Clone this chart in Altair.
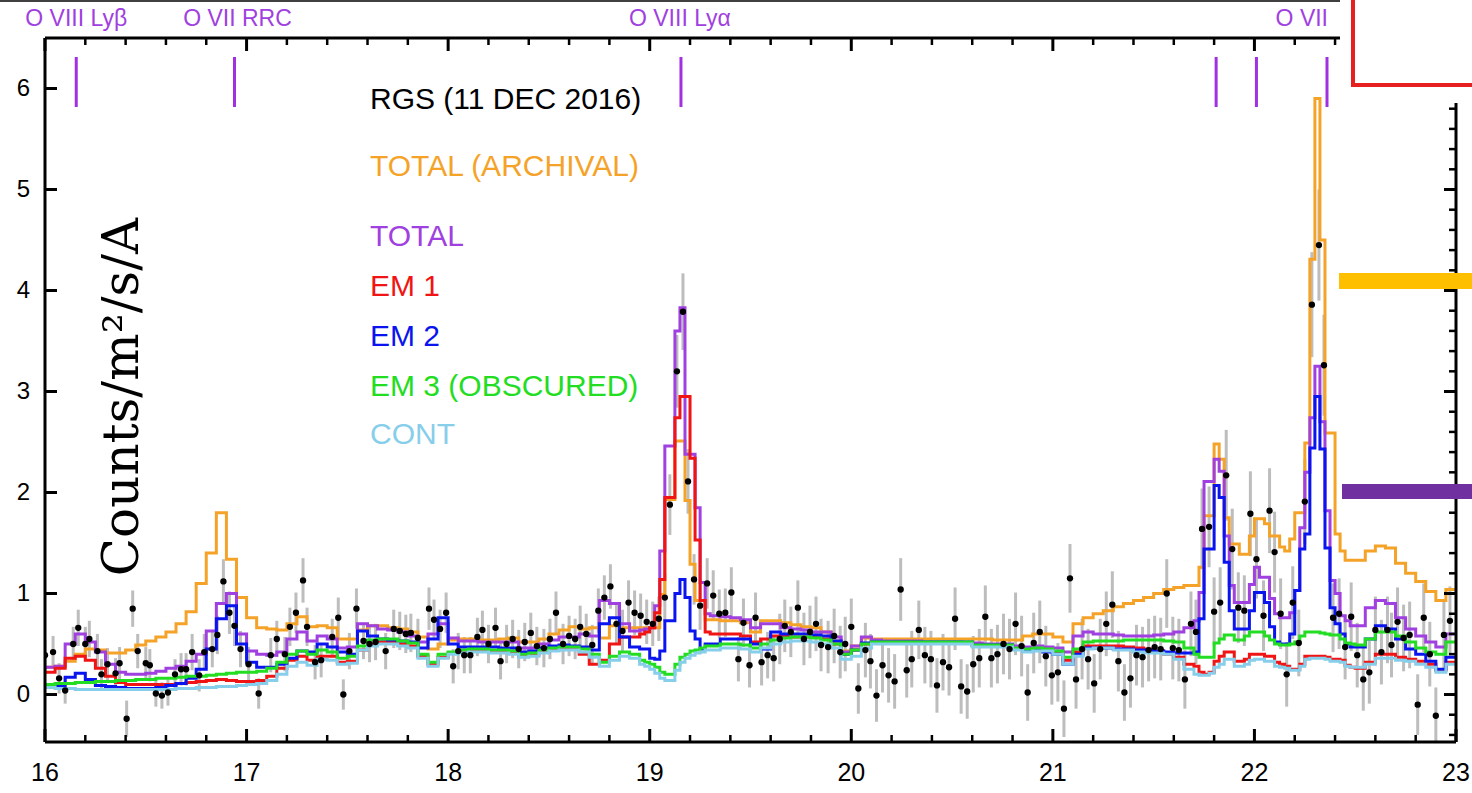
import altair as alt
import numpy as np
import pandas as pd

# ---------------- wavelength bins (Angstrom) ----------------
seg_a = np.round(np.arange(16.00, 18.949, 0.05), 3)   # 59 bins
seg_b = np.round(np.arange(18.95, 19.299, 0.025), 3)  # 14 bins
seg_c = np.round(np.arange(19.30, 21.699, 0.05), 3)   # 48 bins
seg_d = np.round(np.arange(21.70, 22.499, 0.025), 3)  # 32 bins
seg_e = np.round(np.arange(22.50, 22.999, 0.05), 3)   # 10 bins
bin_start = [float(v) for v in np.concatenate([seg_a, seg_b, seg_c, seg_d, seg_e])]
wave_end = 23.0

# ---------------- model curves (counts/m2/s/A) ----------------
total_archival = (
    [0.27, 0.28, 0.33, 0.40, 0.45, 0.44, 0.41, 0.41, 0.44, 0.49,
     0.53, 0.57, 0.62, 0.70, 0.82, 1.10, 1.40, 1.80, 1.34, 0.96,
     0.76, 0.66, 0.65, 0.64, 0.70, 0.77, 0.67, 0.68, 0.66, 0.55,
     0.55, 0.64, 0.68, 0.68, 0.66, 0.65, 0.62, 0.57, 0.45, 0.50,
     0.54, 0.55, 0.55, 0.54, 0.54, 0.55, 0.56, 0.52, 0.52, 0.55,
     0.60, 0.64, 0.67, 0.65, 0.66, 0.56, 0.68, 0.66, 0.66]
    + [0.66, 0.66, 0.66, 0.66, 0.99, 1.93, 1.93, 2.51, 2.51, 1.92, 1.29, 0.93, 0.93, 0.74]
    + [0.74, 0.73, 0.73, 0.71, 0.62, 0.73, 0.73, 0.71, 0.69, 0.67,
       0.66, 0.62, 0.53, 0.43, 0.48, 0.56, 0.55, 0.55, 0.55, 0.55,
       0.55, 0.55, 0.55, 0.55, 0.55, 0.55, 0.55, 0.55, 0.54, 0.54,
       0.54, 0.58, 0.60, 0.60, 0.57, 0.52, 0.70, 0.76, 0.80, 0.83,
       0.87, 0.90, 0.93, 0.96, 1.00, 1.04, 1.06, 1.08]
    + [1.08, 1.26, 1.77, 1.77, 2.48, 2.33, 1.75, 1.49, 1.49, 1.39,
       1.39, 1.57, 1.74, 1.74, 1.69, 1.57, 1.57, 1.46, 1.42, 1.54,
       1.80, 1.80, 2.49, 4.31, 5.90, 4.50, 2.59, 2.59, 1.59, 1.42,
       1.33, 1.33]
    + [1.33, 1.42, 1.47, 1.45, 1.30, 1.20, 1.12, 1.02, 0.93, 1.04]
)

total = (
    [0.27, 0.28, 0.50, 0.60, 0.52, 0.42, 0.30, 0.22, 0.20, 0.20,
     0.21, 0.23, 0.26, 0.28, 0.33, 0.40, 0.63, 0.90, 1.00, 0.60,
     0.43, 0.40, 0.39, 0.42, 0.55, 0.62, 0.53, 0.58, 0.55, 0.46,
     0.47, 0.70, 0.68, 0.65, 0.64, 0.62, 0.58, 0.52, 0.60, 0.70,
     0.56, 0.53, 0.53, 0.52, 0.52, 0.52, 0.52, 0.46, 0.46, 0.50,
     0.54, 0.57, 0.57, 0.60, 0.58, 0.93, 0.90, 0.70, 0.63]
    + [0.64, 0.65, 0.66, 0.88, 1.42, 2.46, 2.46, 3.60, 3.83, 2.38, 2.38, 1.85, 1.11, 0.80]
    + [0.78, 0.77, 0.76, 0.74, 0.66, 0.70, 0.70, 0.66, 0.65, 0.64,
       0.62, 0.62, 0.57, 0.42, 0.48, 0.57, 0.54, 0.53, 0.53, 0.53,
       0.53, 0.52, 0.52, 0.52, 0.52, 0.51, 0.51, 0.50, 0.50, 0.50,
       0.48, 0.47, 0.48, 0.47, 0.46, 0.42, 0.58, 0.62, 0.60, 0.60,
       0.59, 0.58, 0.58, 0.58, 0.59, 0.60, 0.62, 0.66]
    + [0.73, 1.01, 2.11, 2.11, 2.33, 2.21, 1.57, 1.08, 0.91, 0.91,
       0.91, 1.09, 1.26, 1.16, 1.16, 0.95, 0.80, 0.76, 0.76, 0.81,
       1.03, 1.65, 2.20, 2.74, 3.25, 2.70, 1.82, 1.13, 1.00, 0.78,
       0.73, 0.68]
    + [0.68, 0.86, 0.93, 0.90, 0.76, 0.65, 0.58, 0.52, 0.47, 0.60]
)

em1 = (
    [0.22, 0.26, 0.36, 0.38, 0.34, 0.26, 0.18, 0.12, 0.10, 0.10,
     0.10, 0.10, 0.10, 0.11, 0.12, 0.13, 0.14, 0.15, 0.14, 0.13,
     0.13, 0.14, 0.18, 0.26, 0.34, 0.38, 0.34, 0.38, 0.38, 0.32,
     0.33, 0.44, 0.50, 0.52, 0.52, 0.50, 0.48, 0.38, 0.30, 0.37,
     0.41, 0.42, 0.43, 0.43, 0.42, 0.42, 0.41, 0.38, 0.39, 0.42,
     0.44, 0.45, 0.45, 0.40, 0.30, 0.34, 0.50, 0.57, 0.57]
    + [0.60, 0.62, 0.66, 0.81, 1.14, 1.95, 1.95, 2.74, 2.95, 2.95, 2.34, 1.53, 0.93, 0.62]
    + [0.60, 0.60, 0.60, 0.58, 0.52, 0.55, 0.58, 0.58, 0.57, 0.57,
       0.57, 0.55, 0.50, 0.40, 0.44, 0.50, 0.51, 0.51, 0.51, 0.51,
       0.51, 0.51, 0.51, 0.51, 0.51, 0.51, 0.48, 0.48, 0.48, 0.48,
       0.45, 0.44, 0.45, 0.44, 0.42, 0.34, 0.42, 0.48, 0.48, 0.48,
       0.48, 0.47, 0.46, 0.45, 0.43, 0.40, 0.37, 0.30]
    + [0.28, 0.22, 0.20, 0.22, 0.33, 0.38, 0.42, 0.42, 0.33, 0.33,
       0.35, 0.40, 0.40, 0.40, 0.38, 0.38, 0.32, 0.30, 0.28, 0.25,
       0.25, 0.30, 0.38, 0.38, 0.38, 0.38, 0.37, 0.35, 0.35, 0.34,
       0.29, 0.27]
    + [0.26, 0.32, 0.40, 0.40, 0.37, 0.35, 0.33, 0.30, 0.24, 0.32]
)

em2 = (
    [0.07, 0.08, 0.17, 0.21, 0.15, 0.09, 0.08, 0.07, 0.06, 0.06,
     0.06, 0.07, 0.09, 0.11, 0.16, 0.25, 0.45, 0.75, 0.88, 0.50,
     0.32, 0.27, 0.27, 0.30, 0.36, 0.43, 0.42, 0.50, 0.47, 0.42,
     0.40, 0.63, 0.58, 0.55, 0.54, 0.53, 0.52, 0.46, 0.55, 0.76,
     0.50, 0.47, 0.47, 0.47, 0.47, 0.46, 0.46, 0.42, 0.43, 0.46,
     0.48, 0.49, 0.48, 0.47, 0.44, 0.70, 0.76, 0.57, 0.47]
    + [0.45, 0.45, 0.36, 0.35, 0.43, 0.73, 0.73, 1.00, 1.14, 0.96, 0.63, 0.55, 0.45, 0.50]
    + [0.50, 0.55, 0.55, 0.55, 0.50, 0.45, 0.62, 0.60, 0.60, 0.60,
       0.59, 0.58, 0.53, 0.40, 0.44, 0.51, 0.52, 0.52, 0.52, 0.52,
       0.52, 0.52, 0.52, 0.52, 0.52, 0.52, 0.49, 0.49, 0.49, 0.49,
       0.45, 0.43, 0.44, 0.42, 0.40, 0.30, 0.40, 0.46, 0.46, 0.46,
       0.45, 0.45, 0.44, 0.44, 0.43, 0.42, 0.41, 0.41]
    + [0.42, 0.75, 1.44, 1.44, 2.07, 1.95, 1.31, 0.83, 0.65, 0.65,
       0.65, 0.83, 1.01, 1.01, 0.91, 0.67, 0.52, 0.50, 0.50, 0.60,
       1.03, 1.44, 1.59, 2.44, 2.95, 2.43, 1.45, 0.86, 0.70, 0.60,
       0.50, 0.47]
    + [0.47, 0.55, 0.68, 0.65, 0.55, 0.45, 0.40, 0.33, 0.25, 0.37]
)

em3 = (
    [0.10, 0.11, 0.11, 0.12, 0.12, 0.13, 0.13, 0.14, 0.14, 0.15,
     0.15, 0.16, 0.16, 0.17, 0.18, 0.18, 0.19, 0.20, 0.21, 0.22,
     0.22, 0.23, 0.26, 0.32, 0.40, 0.43, 0.40, 0.44, 0.42, 0.36,
     0.38, 0.48, 0.54, 0.55, 0.55, 0.53, 0.51, 0.40, 0.32, 0.40,
     0.42, 0.44, 0.45, 0.45, 0.44, 0.44, 0.43, 0.40, 0.41, 0.44,
     0.46, 0.47, 0.47, 0.45, 0.40, 0.32, 0.38, 0.42, 0.40]
    + [0.34, 0.32, 0.30, 0.27, 0.22, 0.20, 0.20, 0.30, 0.37, 0.40, 0.43, 0.44, 0.46, 0.48]
    + [0.48, 0.50, 0.50, 0.49, 0.46, 0.50, 0.54, 0.56, 0.57, 0.57,
       0.56, 0.54, 0.50, 0.40, 0.44, 0.50, 0.52, 0.52, 0.52, 0.52,
       0.52, 0.52, 0.52, 0.52, 0.52, 0.52, 0.49, 0.49, 0.49, 0.49,
       0.46, 0.45, 0.46, 0.45, 0.43, 0.37, 0.45, 0.52, 0.53, 0.53,
       0.53, 0.54, 0.54, 0.54, 0.54, 0.53, 0.52, 0.46]
    + [0.40, 0.37, 0.37, 0.37, 0.51, 0.55, 0.59, 0.59, 0.54, 0.54,
       0.58, 0.62, 0.62, 0.62, 0.58, 0.54, 0.50, 0.49, 0.49, 0.50,
       0.52, 0.58, 0.62, 0.62, 0.62, 0.61, 0.60, 0.59, 0.59, 0.55,
       0.51, 0.50]
    + [0.49, 0.55, 0.62, 0.62, 0.58, 0.52, 0.46, 0.42, 0.40, 0.52]
)

cont = (
    [0.07, 0.06, 0.06, 0.05, 0.05, 0.05, 0.05, 0.05, 0.05, 0.05,
     0.05, 0.05, 0.05, 0.06, 0.06, 0.07, 0.07, 0.08, 0.08, 0.09,
     0.10, 0.11, 0.14, 0.20, 0.28, 0.32, 0.29, 0.35, 0.34, 0.30,
     0.31, 0.44, 0.48, 0.50, 0.50, 0.48, 0.46, 0.36, 0.28, 0.36,
     0.40, 0.41, 0.42, 0.42, 0.41, 0.41, 0.40, 0.37, 0.38, 0.41,
     0.43, 0.44, 0.44, 0.42, 0.37, 0.28, 0.34, 0.38, 0.36]
    + [0.30, 0.28, 0.25, 0.21, 0.16, 0.14, 0.14, 0.24, 0.32, 0.36, 0.39, 0.41, 0.42, 0.44]
    + [0.44, 0.46, 0.46, 0.45, 0.42, 0.46, 0.50, 0.52, 0.53, 0.53,
       0.52, 0.50, 0.46, 0.35, 0.38, 0.46, 0.50, 0.50, 0.50, 0.50,
       0.50, 0.50, 0.50, 0.50, 0.50, 0.50, 0.47, 0.47, 0.47, 0.47,
       0.44, 0.42, 0.43, 0.43, 0.40, 0.30, 0.38, 0.45, 0.46, 0.46,
       0.44, 0.44, 0.42, 0.41, 0.41, 0.40, 0.35, 0.25]
    + [0.20, 0.19, 0.19, 0.21, 0.27, 0.30, 0.35, 0.35, 0.28, 0.28,
       0.30, 0.34, 0.35, 0.35, 0.33, 0.33, 0.28, 0.27, 0.26, 0.24,
       0.24, 0.28, 0.35, 0.36, 0.36, 0.36, 0.35, 0.33, 0.33, 0.32,
       0.28, 0.27]
    + [0.27, 0.30, 0.36, 0.36, 0.34, 0.33, 0.30, 0.27, 0.22, 0.30]
)

# ---------------- RGS data points ----------------
data_wave = [
    16.00, 16.04, 16.07, 16.10, 16.14, 16.165, 16.20, 16.22, 16.26, 16.28,
    16.31, 16.35, 16.37, 16.405, 16.435, 16.46, 16.50, 16.52, 16.55, 16.58,
    16.61, 16.645, 16.675, 16.70, 16.73, 16.765, 16.79, 16.83, 16.855, 16.885,
    16.915, 16.94, 16.97, 17.01, 17.06, 17.12, 17.15, 17.19, 17.215, 17.245,
    17.28, 17.30, 17.34, 17.37, 17.425, 17.455, 17.48, 17.51, 17.545, 17.58,
    17.61, 17.64, 17.69, 17.73, 17.76, 17.79, 17.815, 17.85, 17.905, 17.93,
    17.96, 17.99, 18.025, 18.05, 18.08, 18.11, 18.145, 18.17, 18.20, 18.235,
    18.26, 18.29, 18.32, 18.35, 18.38, 18.41, 18.44, 18.475, 18.505, 18.535,
    18.57, 18.60, 18.63, 18.655, 18.685, 18.715, 18.745, 18.775, 18.805, 18.835,
    18.865, 18.895, 18.925, 18.955, 18.985, 19.015, 19.045, 19.075, 19.10, 19.135,
    19.165, 19.19, 19.22, 19.25, 19.285, 19.315, 19.345, 19.375, 19.405, 19.44,
    19.465, 19.495, 19.525, 19.555, 19.585, 19.615, 19.645, 19.67, 19.70, 19.735,
    19.765, 19.795, 19.825, 19.85, 19.885, 19.915, 19.945, 19.97, 20.00, 20.035,
    20.07, 20.095, 20.125, 20.155, 20.185, 20.215, 20.245, 20.275, 20.30, 20.335,
    20.365, 20.395, 20.425, 20.455, 20.485, 20.515, 20.545, 20.575, 20.605, 20.635,
    20.665, 20.695, 20.725, 20.755, 20.785, 20.815, 20.845, 20.875, 20.905, 20.935,
    20.965, 20.995, 21.025, 21.055, 21.085, 21.115, 21.145, 21.175, 21.205, 21.235,
    21.265, 21.295, 21.325, 21.355, 21.385, 21.415, 21.445, 21.475, 21.505, 21.535,
    21.565, 21.595, 21.625, 21.655, 21.685, 21.71, 21.74, 21.775, 21.80, 21.83,
    21.86, 21.89, 21.92, 21.95, 21.98, 22.01, 22.045, 22.075, 22.10, 22.13,
    22.16, 22.19, 22.22, 22.25, 22.285, 22.32, 22.345, 22.39, 22.42, 22.45,
    22.48, 22.51, 22.54, 22.57, 22.60, 22.63, 22.66, 22.68, 22.71, 22.74,
    22.77, 22.81, 22.84, 22.87, 22.90, 22.94, 22.97,
]
data_flux = [
    0.39, 0.42, 0.16, 0.04, 0.50, 0.66, 0.50, 0.55, 0.43, 0.20,
    0.30, 0.21, 0.31, -0.24, 0.85, 0.43, 0.31, 0.29, 0.01, -0.01,
    0.02, 0.20, 0.25, 0.25, 0.42, 0.19, 0.42, 0.45, 0.59, 1.12,
    0.81, 0.68, 0.45, 0.30, 0.01, 0.39, 0.55, 0.40, 0.67, 0.81,
    1.13, 0.67, 0.32, 0.34, 0.57, 0.76, 0.00, 0.43, 0.85, 0.53,
    0.50, 0.52, 0.43, 0.65, 0.63, 0.60, 0.61, 0.56, 0.85, 0.74,
    0.65, 0.81, 0.28, 0.43, 0.39, 0.39, 0.57, 0.64, 0.50, 0.66,
    0.33, 0.50, 0.55, 0.45, 0.52, 0.61, 0.48, 0.46, 0.55, 0.81,
    0.50, 0.58, 0.55, 0.67, 0.60, 0.49, 0.83, 0.96, 1.07, 0.70,
    0.63, 0.91, 0.81, 0.78, 0.72, 0.70, 0.75, 0.96, 1.88, 3.20,
    3.79, 2.11, 1.14, 0.88, 1.10, 0.98, 0.80, 0.81, 1.01, 0.35,
    0.71, 0.29, 0.76, 0.32, 0.39, 0.36, 0.55, 0.68, 0.62, 0.86,
    0.55, 0.62, 0.70, 0.49, 0.47, 0.58, 0.42, 0.50, 0.67, 0.06,
    0.44, 0.33, -0.01, 0.29, 0.19, 0.13, 1.04, 0.24, 0.35, 0.64,
    0.39, 0.35, 0.09, 0.32, 0.27, 0.75, 0.08, 0.03, 0.30, 0.36,
    0.77, 0.36, 0.40, 0.50, 0.45, 0.70, 0.48, 0.02, 0.51, 0.62,
    0.38, 0.19, 0.22, -0.14, 1.15, 0.15, 0.45, 0.35, 0.11, 0.45,
    0.70, 0.89, 0.33, 0.02, 0.16, 0.39, 0.37, 0.44, 0.47, 0.45,
    1.00, 0.46, 0.44, 0.15, 0.70, 0.62, 1.64, 1.66, 0.82, 0.91,
    2.17, 1.44, 0.86, 0.83, 1.79, 1.34, 0.78, 1.82, 1.41, 0.80,
    0.20, 0.91, 0.51, 1.91, 3.86, 4.45, 3.26, 0.76, 0.80, 0.47,
    0.77, 0.39, 0.15, 0.22, 0.64, 0.42, 0.64, 0.49, 0.72, 0.56,
    0.59, -0.10, 0.76, 0.40, -0.21, 0.59, 0.73,
]
data_err = [
    0.15, 0.16, 0.15, 0.13, 0.17, 0.18, 0.17, 0.18, 0.17, 0.15,
    0.16, 0.15, 0.16, 0.18, 0.18, 0.17, 0.16, 0.16, 0.13, 0.13,
    0.13, 0.15, 0.16, 0.16, 0.18, 0.16, 0.18, 0.18, 0.19, 0.22,
    0.21, 0.20, 0.18, 0.17, 0.15, 0.17, 0.18, 0.17, 0.19, 0.20,
    0.22, 0.19, 0.17, 0.17, 0.18, 0.20, 0.15, 0.18, 0.20, 0.18,
    0.18, 0.18, 0.18, 0.19, 0.19, 0.19, 0.19, 0.19, 0.21, 0.20,
    0.19, 0.20, 0.17, 0.18, 0.18, 0.18, 0.19, 0.19, 0.19, 0.20,
    0.18, 0.19, 0.19, 0.19, 0.19, 0.20, 0.19, 0.19, 0.20, 0.21,
    0.20, 0.20, 0.20, 0.21, 0.20, 0.20, 0.22, 0.22, 0.22, 0.21,
    0.21, 0.22, 0.22, 0.22, 0.22, 0.22, 0.22, 0.24, 0.30, 0.36,
    0.38, 0.32, 0.25, 0.24, 0.25, 0.25, 0.24, 0.24, 0.25, 0.22,
    0.24, 0.22, 0.25, 0.23, 0.23, 0.23, 0.25, 0.26, 0.25, 0.27,
    0.26, 0.26, 0.27, 0.26, 0.26, 0.27, 0.26, 0.27, 0.28, 0.25,
    0.27, 0.27, 0.26, 0.27, 0.27, 0.27, 0.31, 0.27, 0.28, 0.29,
    0.28, 0.28, 0.27, 0.28, 0.28, 0.31, 0.27, 0.27, 0.28, 0.29,
    0.31, 0.29, 0.29, 0.30, 0.30, 0.31, 0.30, 0.28, 0.30, 0.31,
    0.30, 0.29, 0.29, 0.28, 0.34, 0.29, 0.30, 0.30, 0.29, 0.30,
    0.32, 0.33, 0.30, 0.28, 0.29, 0.30, 0.30, 0.31, 0.31, 0.31,
    0.34, 0.31, 0.31, 0.29, 0.32, 0.32, 0.40, 0.40, 0.34, 0.35,
    0.45, 0.40, 0.35, 0.35, 0.42, 0.39, 0.35, 0.42, 0.40, 0.35,
    0.32, 0.36, 0.33, 0.42, 0.52, 0.55, 0.50, 0.34, 0.35, 0.32,
    0.34, 0.32, 0.31, 0.31, 0.33, 0.32, 0.33, 0.32, 0.34, 0.33,
    0.33, 0.30, 0.34, 0.32, 0.28, 0.33, 0.34,
]

# ---------------- annotations ----------------
line_wave = [16.155, 16.94, 19.155, 21.81, 22.01, 22.36]
line_labels = ["O VIII Lyβ", "O VII RRC", "O VIII Lyα", "O VII"]
line_label_wave = [16.155, 16.955, 19.15, 22.365]
line_label_align = ["center", "center", "center", "right"]

legend_text = ["RGS (11 DEC 2016)", "TOTAL (ARCHIVAL)", "TOTAL", "EM 1", "EM 2",
               "EM 3 (OBSCURED)", "CONT"]
legend_colors = ["#000000", "#f5a328", "#a040e0", "#f01414", "#0a14ee", "#22dd22", "#87ceeb"]
legend_ypix = [62, 129, 199, 249, 299, 349, 397]

x_major = [16, 17, 18, 19, 20, 21, 22, 23]
x_tick_labels = ["16", "17", "18", "19", "20", "21", "22", "23"]
x_minor = [round(16 + 0.2 * i, 1) for i in range(36) if i % 5 != 0]
y_major = [0, 1, 2, 3, 4, 5, 6]
y_tick_labels = ["0", "1", "2", "3", "4", "5", "6"]
y_minor = [round(-0.4 + 0.2 * i, 1) for i in range(34) if round(-0.4 + 0.2 * i, 1) not in y_major]

for s in (total_archival, total, em1, em2, em3, cont):
    assert len(s) == len(bin_start), len(s)
assert len(data_wave) == len(data_flux) == len(data_err)

W, H = 1411, 704
xs = alt.Scale(domain=[16, 23], nice=False, zero=False)
ys = alt.Scale(domain=[-0.47, 6.5], nice=False, zero=False)
FONT = "Liberation Sans"
dummy = pd.DataFrame({"d": [0]})

# ---------------- layers ----------------
pts = pd.DataFrame({"wave": data_wave, "flux": data_flux, "err": data_err})
pts["lo"] = pts["flux"] - pts["err"]
pts["hi"] = pts["flux"] + pts["err"]

errbars = alt.Chart(pts).mark_rule(color="#bdbdbd", strokeWidth=3, clip=True).encode(
    x=alt.X("wave:Q", scale=xs, axis=None),
    y=alt.Y("lo:Q", scale=ys, axis=None),
    y2="hi:Q",
)


def step_layer(vals, color):
    df = pd.DataFrame({"wave": bin_start + [wave_end], "flux": vals + [vals[-1]]})
    return alt.Chart(df).mark_line(interpolate="step-after", color=color, strokeWidth=3,
                                   clip=True).encode(
        x=alt.X("wave:Q", scale=xs, axis=None),
        y=alt.Y("flux:Q", scale=ys, axis=None),
    )


curves = [
    step_layer(total_archival, "#f5a328"),
    step_layer(total, "#a040e0"),
    step_layer(em1, "#f01414"),
    step_layer(em2, "#0a14ee"),
    step_layer(em3, "#22dd22"),
    step_layer(cont, "#87ceeb"),
]

dots = alt.Chart(pts).mark_circle(color="black", size=40, opacity=1, clip=True).encode(
    x=alt.X("wave:Q", scale=xs, axis=None),
    y=alt.Y("flux:Q", scale=ys, axis=None),
)

# tick labels as text through the scales
xlab = alt.Chart(pd.DataFrame({"t": x_major, "s": x_tick_labels})).mark_text(
    font=FONT, fontSize=25, color="black", align="center", baseline="middle").encode(
    x=alt.X("t:Q", scale=xs, axis=None), y=alt.value(H + 31), text="s:N")
ylab = alt.Chart(pd.DataFrame({"t": y_major, "s": y_tick_labels})).mark_text(
    font=FONT, fontSize=24, color="black", align="right", baseline="middle").encode(
    y=alt.Y("t:Q", scale=ys, axis=None), x=alt.value(-15), text="s:N")

# line markers and labels
markers = alt.Chart(pd.DataFrame({"wave": line_wave})).mark_rule(
    color="#a030e0", strokeWidth=3).encode(
    x=alt.X("wave:Q", scale=xs, axis=None), y=alt.value(19), y2=alt.value(69))

label_layers = []
for txt, wv, al in zip(line_labels, line_label_wave, line_label_align):
    label_layers.append(
        alt.Chart(pd.DataFrame({"wave": [wv], "t": [txt]})).mark_text(
            font=FONT, fontSize=23, color="#a040e0", align=al, baseline="middle").encode(
            x=alt.X("wave:Q", scale=xs, axis=None), y=alt.value(-19), text="t:N"))

legend_layers = []
for txt, col, yp in zip(legend_text, legend_colors, legend_ypix):
    legend_layers.append(
        alt.Chart(dummy).mark_text(font=FONT, fontSize=30, color=col, align="left",
                                   baseline="middle", text=txt).encode(
            x=alt.value(325), y=alt.value(yp)))

ylabel = alt.Chart(dummy).mark_text(font="DejaVu Serif", fontSize=50, color="black",
                                    angle=270, align="center", baseline="middle",
                                    text="Counts/m²/s/A").encode(
    x=alt.value(78), y=alt.value(359))


# ticks (inward)
def xticks(vals, y, y2, w):
    return alt.Chart(pd.DataFrame({"t": vals})).mark_rule(color="black", strokeWidth=w).encode(
        x=alt.X("t:Q", scale=xs, axis=None), y=alt.value(y), y2=alt.value(y2))


def yticks(vals, x, x2, w):
    return alt.Chart(pd.DataFrame({"t": vals})).mark_rule(color="black", strokeWidth=w).encode(
        y=alt.Y("t:Q", scale=ys, axis=None), x=alt.value(x), x2=alt.value(x2))


ticks = [
    xticks(x_major, H, H - 13, 3), xticks(x_minor, H, H - 7, 2.5),
    xticks(x_major, 0, 13, 3), xticks(x_minor, 0, 7, 2.5),
    yticks(y_major, 0, 12, 3),
    yticks(y_major, W, W - 12, 3), yticks(y_minor, W, W - 7, 2.5),
]


def px_rule(x, x2, y, y2, color="black", w=3):
    return alt.Chart(dummy).mark_rule(color=color, strokeWidth=w).encode(
        x=alt.value(x), x2=alt.value(x2), y=alt.value(y), y2=alt.value(y2))


frame = [
    px_rule(0, W, H, H), px_rule(0, 0, 0, H), px_rule(0, W, 0, 0), px_rule(W, W, 0, H),
    px_rule(-45, 1296, -37, -37, w=1.5),
]

cover = alt.Chart(dummy).mark_rect(color="white").encode(
    x=alt.value(1295), x2=alt.value(1430), y=alt.value(-40), y2=alt.value(65))
red_box = alt.Chart(dummy).mark_rect(fill=None, stroke="#e62020", strokeWidth=4).encode(
    x=alt.value(1308), x2=alt.value(1450), y=alt.value(-60), y2=alt.value(47))
bar_yellow = alt.Chart(dummy).mark_rect(color="#fdbf00").encode(
    x=alt.value(1294), x2=alt.value(1430), y=alt.value(235), y2=alt.value(251))
bar_purple = alt.Chart(dummy).mark_rect(color="#7030a0").encode(
    x=alt.value(1297), x2=alt.value(1430), y=alt.value(446), y2=alt.value(461))

chart = alt.layer(
    errbars, *curves, dots, xlab, ylab, markers, *label_layers, *legend_layers, ylabel,
    *ticks, *frame, cover, red_box, bar_yellow, bar_purple,
).properties(
    width=W, height=H,
    autosize=alt.AutoSizeParams(type="none"),
    padding={"left": 45, "top": 38, "right": 16, "bottom": 51},
    background="white",
).configure_view(stroke=None)

chart.save("out.html", embed_options={"renderer": "svg", "actions": False})
